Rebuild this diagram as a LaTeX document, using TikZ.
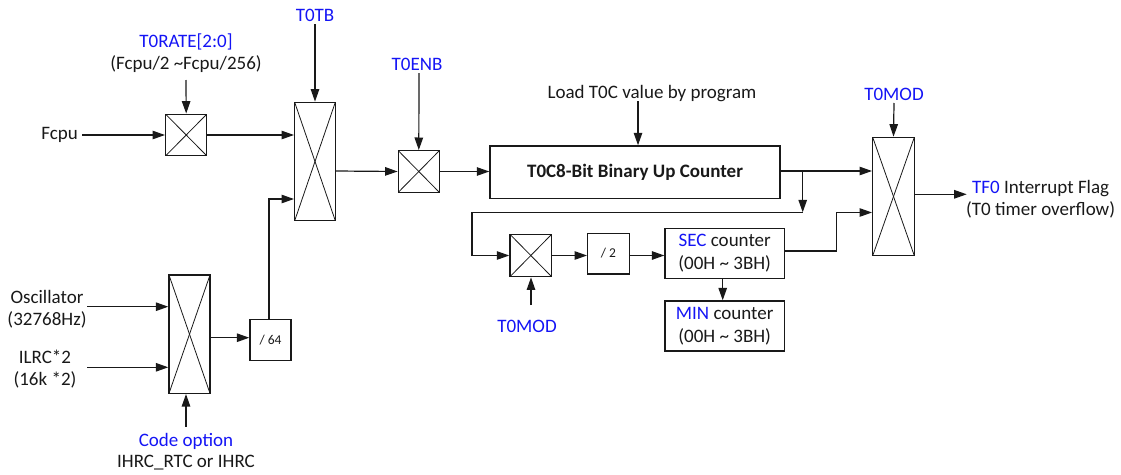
\documentclass[tikz,border=0pt]{standalone}
\usepackage{fontspec}
\setmainfont{Carlito}
\usetikzlibrary{arrows.meta,calc}
\definecolor{lblue}{RGB}{20,20,245}
\definecolor{ink}{RGB}{25,25,25}
\tikzset{
  base/.style={font=\fontsize{19}{22.5}\selectfont, text=ink},
  lbl/.style={base, inner sep=0pt, align=center},
  blbl/.style={lbl, text=lblue},
  box/.style={draw=ink, line width=1.4pt, rectangle, inner sep=0pt},
  muxbox/.style={box, path picture={
      \draw[line width=0.8pt, ink] (path picture bounding box.north west) -- (path picture bounding box.south east);
      \draw[line width=0.8pt, ink] (path picture bounding box.north east) -- (path picture bounding box.south west);}},
  conn/.style={draw=ink, line width=1.2pt, -{Triangle[length=12.5pt,width=8.5pt]}},
  wire/.style={draw=ink, line width=1.2pt},
}
\begin{document}
\begin{tikzpicture}[x=1pt,y=-1pt]
\useasboundingbox (0,0) rectangle (1121,474);

% boxes
\node[muxbox, minimum width=41pt, minimum height=41.5pt] (mux1) at (186.2,135) {};
\node[muxbox, minimum width=40.6pt, minimum height=118.4pt] (muxTB) at (315,161.5) {};
\node[muxbox, minimum width=41pt, minimum height=118.3pt] (muxSrc) at (189.5,334.2) {};
\node[box, minimum width=41pt, minimum height=41.4pt, font=\fontsize{13.5}{15}\selectfont, text=ink] (div64) at (270.5,340) {/ 64};
\node[muxbox, minimum width=41pt, minimum height=41.6pt] (muxEN) at (418.8,171.5) {};
\node[box, minimum width=290pt, minimum height=52.7pt, font=\fontsize{19}{22}\selectfont\bfseries, text=ink] (cnt) at (635,172.3) {T0C8-Bit Binary Up Counter};
\node[muxbox, minimum width=41.7pt, minimum height=42.4pt] (mux2) at (530.8,255.5) {};
\node[box, minimum width=41.6pt, minimum height=40.6pt, font=\fontsize{13.5}{15}\selectfont, text=ink] (div2) at (608.5,253.5) {/ 2};
\node[box, minimum width=119.3pt, minimum height=50pt, align=center, base] (sec) at (724.7,253.3) {\textcolor{lblue}{SEC} counter\\(00H \textasciitilde{} 3BH)};
\node[box, minimum width=119.3pt, minimum height=50pt, align=center, base] (min) at (724.7,326) {\textcolor{lblue}{MIN} counter\\(00H \textasciitilde{} 3BH)};
\node[muxbox, minimum width=41.6pt, minimum height=118.4pt] (muxOut) at (893.5,196.5) {};

% labels
\node[lbl, anchor=east] (fcpu) at (78,135) {Fcpu};
\node[blbl] (rate) at (186,42) {T0RATE[2:0]};
\node[lbl] (rate2) at (186,64) {(Fcpu/2 \textasciitilde Fcpu/256)};
\node[blbl] (tb) at (315,15) {T0TB};
\node[blbl] (enb) at (417,64) {T0ENB};
\node[lbl] (load) at (652,94) {Load T0C value by program};
\node[blbl] (modU) at (894,94) {T0MOD};
\node[blbl] (modL) at (527,326) {T0MOD};
\node[lbl, anchor=west] (tf) at (966,199) {\textcolor{lblue}{TF0} Interrupt Flag\\(T0 timer overflow)};
\node[lbl] (osc) at (47,309) {Oscillator\\(32768Hz)};
\node[lbl] (ilrc) at (45,369) {ILRC*2\\(16k *2)};
\node[blbl] (code) at (186,441.7) {Code option};
\node[lbl] (ihrc) at (186,463) {IHRC\_RTC or IHRC};

% coordinates for free ends
\coordinate (fcpuE) at (82,135);
\coordinate (rateS) at (186,80);
\coordinate (tbS) at (315,24);
\coordinate (enbS) at (419,73);
\coordinate (loadS) at (638,101);
\coordinate (modUS) at (894,103);
\coordinate (modLN) at (531,305);
\coordinate (oscE) at (87,306.7);
\coordinate (ilrcE) at (87,367.3);
\coordinate (codeN) at (186,426.7);
\coordinate (br) at (802.7,172.3);
\coordinate (brD) at (802.7,212.3);
\coordinate (loopL) at (472,212.3);
\coordinate (secR) at (836.7,251);
\coordinate (tfW) at (966.7,194.3);

% connectors
\draw[conn] (fcpuE) -- (mux1.west);
\draw[conn] (rateS) -- (mux1.north);
\draw[conn] (tbS) -- (muxTB.north);
\draw[conn] (mux1.east) -- (mux1.east -| muxTB.west);
\draw[conn] (muxTB.east |- 0,171) -- (muxEN.west);
\draw[conn] (enbS) -- (muxEN.north);
\draw[conn] (muxEN.east) -- (muxEN.east -| cnt.west);
\draw[conn] (loadS) -- (loadS |- cnt.north);
\draw[conn] (cnt.east |- 0,171) -- (muxOut.west |- 0,171);
\draw[conn] (br |- 0,171) -- (brD);
\draw[conn] (brD) -- (loopL) -- (loopL |- mux2.west) -- (mux2.west);
\draw[conn] (mux2.east) -- (mux2.east -| div2.west);
\draw[conn] (div2.east |- mux2.east) -- (mux2.east -| sec.west);
\draw[conn] (modLN) -- (modLN |- mux2.south);
\draw[conn] (722.7,0 |- sec.south) -- (722.7,0 |- min.north);
\draw[conn] (sec.east |- secR) -- (secR) -- (secR |- 0,212.5) -- (muxOut.west |- 0,212.5);
\draw[conn] (modUS) -- (muxOut.north);
\draw[conn] (muxOut.east |- tfW) -- (tfW);
\draw[conn] (oscE) -- (oscE -| muxSrc.west);
\draw[conn] (ilrcE) -- (ilrcE -| muxSrc.west);
\draw[conn] (codeN) -- (codeN |- muxSrc.south);
\draw[conn] (muxSrc.east |- 0,337.7) -- (div64.west |- 0,337.7);
\draw[conn] (div64.north -| 269,0) -- (269,199) -- (muxTB.west |- 0,199);
\end{tikzpicture}
\end{document}
